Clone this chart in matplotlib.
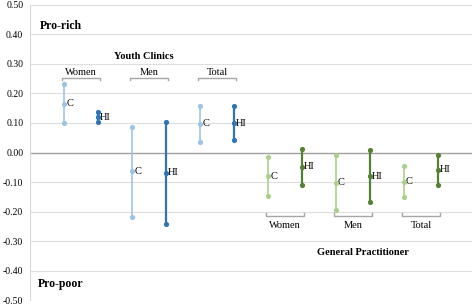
import matplotlib
matplotlib.use("Agg")
from matplotlib import pyplot as plt

plt.rcParams['font.family'] = ['Liberation Serif', 'DejaVu Serif']

# concentration index (C) and horizontal inequity (HI): upper, point, lower
groups = ["Women", "Men", "Total"]
yc_c_hi = [0.232, 0.088, 0.156]
yc_c_mid = [0.165, -0.064, 0.097]
yc_c_lo = [0.100, -0.218, 0.036]
yc_hi_hi = [0.136, 0.104, 0.158]
yc_hi_mid = [0.120, -0.069, 0.099]
yc_hi_lo = [0.104, -0.243, 0.041]

gp_c_hi = [-0.016, -0.010, -0.046]
gp_c_mid = [-0.080, -0.103, -0.099]
gp_c_lo = [-0.146, -0.194, -0.151]
gp_hi_hi = [0.012, 0.009, -0.009]
gp_hi_mid = [-0.049, -0.080, -0.059]
gp_hi_lo = [-0.110, -0.169, -0.110]

yticks = [0.5, 0.4, 0.3, 0.2, 0.1, 0.0, -0.1, -0.2, -0.3, -0.4, -0.5]

col_yc_c = "#9dc3e6"
col_yc_hi = "#2e75b6"
col_gp_c = "#a9d18e"
col_gp_hi = "#548235"

fig = plt.figure(figsize=(4.72, 3.05), dpi=100)
ax = fig.add_axes([0.064, 0.016, 0.936, 0.968])


def draw_ci(x, lo, mid, hi, color, label, lw):
    ax.plot([x, x], [lo, hi], color=color, lw=lw, zorder=3)
    ax.plot([x, x, x], [lo, mid, hi], 'o', color=color, ms=2.7, zorder=4)
    ax.text(x + 0.06, mid, label, fontsize=7.5, va='center', ha='left')


def bracket(x0, x1, y, up, name):
    d = 0.009 if up else -0.009
    ax.plot([x0, x0, x1, x1], [y + d, y, y, y + d], color="#a6a6a6", lw=1)
    ty = y - 0.033 if up else y + 0.017
    ax.text((x0 + x1) / 2, ty, name, fontsize=7.5, ha='center', va='center')


for i in range(3):
    xc = 1 + 2 * i
    draw_ci(xc, yc_c_lo[i], yc_c_mid[i], yc_c_hi[i], col_yc_c, "C", 1.2)
    draw_ci(xc + 1, yc_hi_lo[i], yc_hi_mid[i], yc_hi_hi[i], col_yc_hi, "HI", 1.6)
    bracket(xc - 0.06, xc + 1.06, 0.253, False, groups[i])

    xg = 7 + 2 * i
    draw_ci(xg, gp_c_lo[i], gp_c_mid[i], gp_c_hi[i], col_gp_c, "C", 1.2)
    draw_ci(xg + 1, gp_hi_lo[i], gp_hi_mid[i], gp_hi_hi[i], col_gp_hi, "HI", 1.6)
    bracket(xg - 0.06, xg + 1.06, -0.214, True, groups[i])

ax.text(3.35, 0.325, "Youth Clinics", fontsize=7.5, fontweight='bold',
        ha='center', va='center')
ax.text(9.8, -0.339, "General Practitioner", fontsize=7.5, fontweight='bold',
        ha='center', va='center')
ax.text(0.27, 0.43, "Pro-rich", fontsize=8.5, fontweight='bold', va='center')
ax.text(0.22, -0.447, "Pro-poor", fontsize=8.5, fontweight='bold', va='center')

ax.set_xlim(0, 13)
ax.set_ylim(-0.5, 0.5)
ax.set_yticks(yticks)
ax.set_yticklabels(["%.2f" % v for v in yticks], fontsize=7)
ax.set_xticks([])
ax.tick_params(axis='y', length=0, pad=5)
for v in yticks:
    if v != 0:
        ax.axhline(v, color="#dedede", lw=0.8, zorder=0)
ax.axhline(0, color="#a0a0a0", lw=1, zorder=1)
for s in ["top", "right", "bottom"]:
    ax.spines[s].set_visible(False)
ax.spines["left"].set_color("#d9d9d9")

fig.savefig("out.png", dpi=100)
